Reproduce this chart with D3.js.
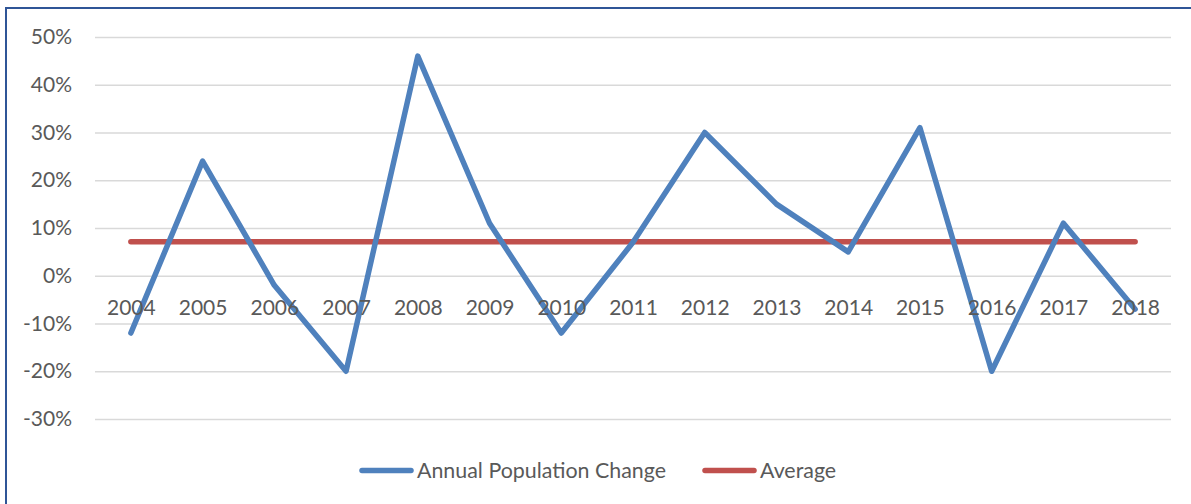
<!DOCTYPE html>
<html>
<head>
<meta charset="utf-8">
<script src="https://cdn.jsdelivr.net/npm/d3@7"></script>
<style>
  html, body { margin: 0; padding: 0; background: #fff; }
  svg { display: block; }
  text { font-family: Lato, "Open Sans", sans-serif; fill: #595959; }
</style>
</head>
<body>
<svg id="chart" width="1191" height="504"></svg>
<script>
// Years on the category axis
const years = ["2004", "2005", "2006", "2007", "2008", "2009", "2010", "2011",
               "2012", "2013", "2014", "2015", "2016", "2017", "2018"];
// Annual population change, percent
const annualChange = [-12, 24, -2, -20, 46, 11, -12, 7, 30, 15, 5, 31, -20, 11, -7];
// Average of the annual change, percent
const averageChange = [7.1, 7.1, 7.1, 7.1, 7.1, 7.1, 7.1, 7.1, 7.1, 7.1, 7.1, 7.1, 7.1, 7.1, 7.1];
// Value-axis ticks, percent
const yTicks = [50, 40, 30, 20, 10, 0, -10, -20, -30];

const seriesNames = ["Annual Population Change", "Average"];
const seriesColors = ["#4F81BD", "#C0504D"];

const svg = d3.select("#chart");
const plot = { left: 95, right: 1171, top: 37, bottom: 419 };

const x = d3.scalePoint().domain(years).range([plot.left, plot.right]).padding(0.5);
const y = d3.scaleLinear().domain([-30, 50]).range([plot.bottom, plot.top]);

// Outer frame
svg.append("rect")
  .attr("x", 6).attr("y", 8)
  .attr("width", 1400).attr("height", 800)
  .attr("fill", "none")
  .attr("stroke", "#2F5597")
  .attr("stroke-width", 2);

// Gridlines and value labels
const yAxis = svg.append("g")
  .attr("transform", `translate(${plot.left},0)`)
  .call(d3.axisLeft(y)
    .tickValues(yTicks)
    .tickSize(-(plot.right - plot.left))
    .tickPadding(23)
    .tickFormat(d => d + "%"));
yAxis.select(".domain").remove();
yAxis.selectAll(".tick line").attr("stroke", "#D9D9D9").attr("stroke-width", 1.5);
yAxis.selectAll(".tick text")
  .style("font-family", "Lato, 'Open Sans', sans-serif")
  .style("font-size", "21px")
  .attr("fill", "#595959");

// Series lines
const line = d3.line()
  .x((d, i) => x(years[i]))
  .y(d => y(d));

svg.append("path")
  .datum(averageChange)
  .attr("d", line)
  .attr("fill", "none")
  .attr("stroke", seriesColors[1])
  .attr("stroke-width", 5.5)
  .attr("stroke-linecap", "round")
  .attr("stroke-linejoin", "round");

svg.append("path")
  .datum(annualChange)
  .attr("d", line)
  .attr("fill", "none")
  .attr("stroke", seriesColors[0])
  .attr("stroke-width", 5.5)
  .attr("stroke-linecap", "round")
  .attr("stroke-linejoin", "round");

// Category labels sit next to the zero line, above the series
const xAxis = svg.append("g")
  .attr("transform", `translate(0,${y(0)})`)
  .call(d3.axisBottom(x).tickSize(0).tickPadding(24));
xAxis.select(".domain").remove();
xAxis.selectAll(".tick text")
  .style("font-family", "Lato, 'Open Sans', sans-serif")
  .style("font-size", "21px")
  .attr("fill", "#595959");

// Legend
const legendItems = [
  { name: seriesNames[0], color: seriesColors[0], x: 362 },
  { name: seriesNames[1], color: seriesColors[1], x: 705 }
];
const legendY = 470.5;
const lg = svg.append("g");
legendItems.forEach(item => {
  lg.append("line")
    .attr("x1", item.x).attr("x2", item.x + 49)
    .attr("y1", legendY).attr("y2", legendY)
    .attr("stroke", item.color)
    .attr("stroke-width", 5.5)
    .attr("stroke-linecap", "round");
  lg.append("text")
    .attr("x", item.x + 55)
    .attr("y", legendY)
    .attr("dy", "0.35em")
    .style("font-size", "21.4px")
    .text(item.name);
});
</script>
</body>
</html>
